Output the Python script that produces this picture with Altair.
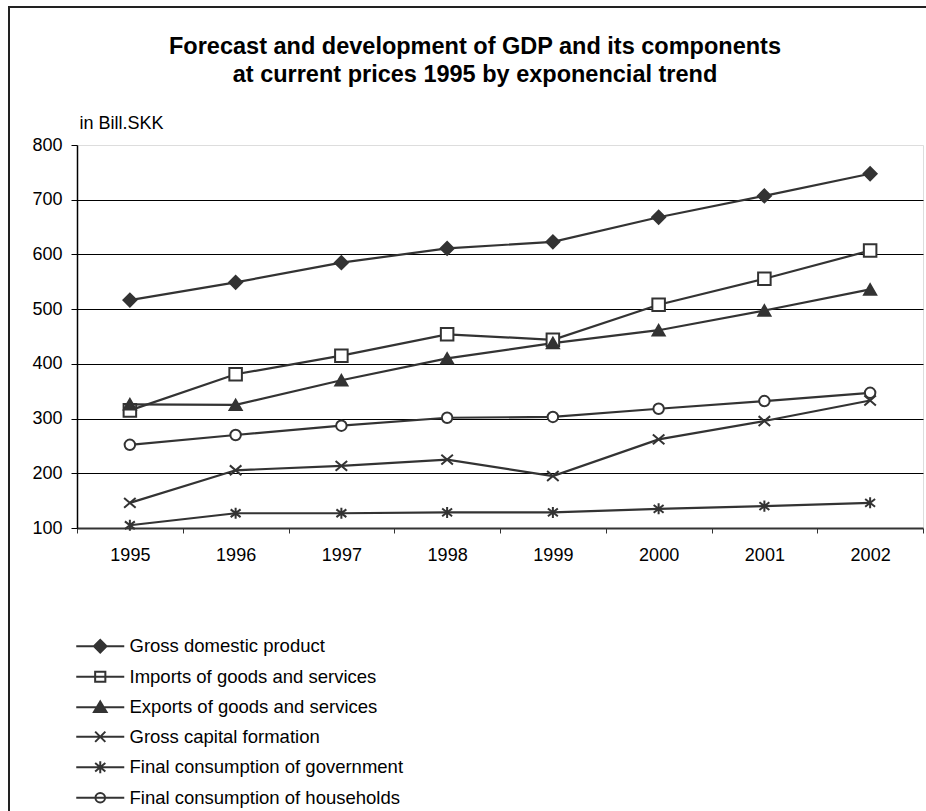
import altair as alt
import pandas as pd

# ---- data ----
years = ['1995', '1996', '1997', '1998', '1999', '2000', '2001', '2002']
series_names = [
    'Gross domestic product',
    'Imports of goods and services',
    'Exports of goods and services',
    'Gross capital formation',
    'Final consumption of government',
    'Final consumption of households',
]
gdp = [516.5, 549, 585, 611, 623, 668, 707, 747.5]
imports = [315, 381, 415, 454, 444, 508, 555.5, 607]
exports = [326, 325, 370, 410, 438, 461.5, 497.5, 536]
capital = [146, 205.5, 213.5, 225, 195, 262, 295.5, 333]
government = [105, 127, 127, 128.5, 128.5, 135, 140, 146]
households = [252, 270, 287, 301.5, 303, 318, 332, 347]
y_ticks = [100, 200, 300, 400, 500, 600, 700, 800]

all_values = [gdp, imports, exports, capital, government, households]
rows = []
for name, vals in zip(series_names, all_values):
    for yr, v in zip(years, vals):
        rows.append({'year': yr, 'series': name, 'value': v})
df = pd.DataFrame(rows)

FONT = 'Liberation Sans'
INK = '#333333'

# plot markers
X_PATH = 'M-1,-0.85L1,0.85M-1,0.85L1,-0.85'
AST_PATH = 'M-0.9,-0.7L0.9,0.7M-0.9,0.7L0.9,-0.7M0,-1L0,1'
point_shapes = ['diamond', 'square', 'triangle-up', X_PATH, AST_PATH, 'circle']
point_fills = [INK, 'white', INK, 'white', 'white', 'white']
point_sizes = [169, 110, 169, 150, 160, 110]

# legend symbols: line through a marker (unit = 6 px at size 144)
L = 'M-4,0H4'
def diamond(k):
    return 'M-{0},0L0,-{0}L{0},0L0,{0}Z'.format(k)
def tri(k):
    return 'M0,-{0}L{1},{2}H-{1}Z'.format(round(0.95 * k, 3), round(1.05 * k, 3), round(0.8 * k, 3))
legend_shapes = [
    L + diamond(1.05) + diamond(0.7) + diamond(0.35) + diamond(0.05),
    L + 'M-0.85,-0.85H0.85V0.85H-0.85Z',
    L + tri(1.0) + tri(0.66) + tri(0.33),
    L + 'M-0.85,-0.85L0.85,0.85M-0.85,0.85L0.85,-0.85',
    L + 'M-0.85,-0.7L0.85,0.7M-0.85,0.7L0.85,-0.7M0,-1V1',
    L + 'M-0.8,0A0.8,0.8,0,1,1,0.8,0A0.8,0.8,0,1,1,-0.8,0Z',
]

x_enc = alt.X('year:O', bandPosition=0.5,
              scale=alt.Scale(type='band', paddingInner=0, paddingOuter=0),
              axis=alt.Axis(title=None, labelAngle=0, tickBand='extent',
                            labelFont=FONT, labelFontSize=18, labelColor='black',
                            labelPadding=13, tickSize=5, tickColor=INK,
                            domainColor=INK, domainWidth=2, grid=False))
y_enc = alt.Y('value:Q',
              scale=alt.Scale(domain=[100, 800], nice=False, zero=False),
              axis=alt.Axis(values=y_ticks, title='in Bill.SKK', titleAngle=0,
                            titleX=2, titleY=-17, titleAlign='left',
                            titleBaseline='alphabetic', titleFont=FONT,
                            titleFontSize=18, titleFontWeight='normal',
                            titleColor='black',
                            labelFont=FONT, labelFontSize=18, labelColor='black',
                            labelPadding=9, tickSize=6, tickColor='black',
                            domainColor='black', domainWidth=1.5,
                            gridColor={'condition': {'test': 'datum.value == 800 || datum.value == 100',
                                                     'value': 'transparent'},
                                       'value': 'black'},
                            gridWidth=1))

one = alt.Data(values=[{'k': 1}])
frame_left = alt.Chart(one).mark_rule(color='#222222', strokeWidth=2).encode(
    x=alt.value(-68), y=alt.value(-138), y2=alt.value(700))
frame_top = alt.Chart(one).mark_rule(color='#222222', strokeWidth=2).encode(
    x=alt.value(-69), x2=alt.value(900), y=alt.value(-138))

lines = alt.Chart(df).mark_line(color=INK, strokeWidth=2.2).encode(
    x=x_enc, y=y_enc, detail='series:N', order='year:O'
)

points = alt.Chart(df).mark_point(stroke=INK, strokeWidth=2, opacity=1).encode(
    x=x_enc, y=y_enc,
    shape=alt.Shape('series:N', scale=alt.Scale(domain=series_names, range=point_shapes), legend=None),
    fill=alt.Fill('series:N', scale=alt.Scale(domain=series_names, range=point_fills), legend=None),
    size=alt.Size('series:N', scale=alt.Scale(domain=series_names, range=point_sizes), legend=None),
)

leg = alt.Legend(title=None, orient='none', legendX=14, legendY=492, direction='vertical',
                 labelFont=FONT, labelFontSize=18.5, labelColor='black', labelOffset=20,
                 symbolSize=144, symbolStrokeWidth=2, symbolOpacity=1,
                 rowPadding=10.5, padding=0, labelLimit=400)

legend_layer = alt.Chart(df).transform_filter('false').transform_calculate(
    legend_series='datum.series'
).mark_point(filled=False, stroke=INK, strokeWidth=2, opacity=1, size=144).encode(
    shape=alt.Shape('legend_series:N', scale=alt.Scale(domain=series_names, range=legend_shapes), legend=leg),
)

chart = alt.layer(frame_left, frame_top, lines, points, legend_layer).resolve_scale(
    shape='independent'
).properties(
    width=846, height=383,
    autosize=alt.AutoSizeParams(type='none'),
    padding={'left': 77, 'top': 145, 'right': 3, 'bottom': 283},
    title=alt.TitleParams(
        text=['Forecast and development of GDP and its components',
              'at current prices 1995 by exponencial trend'],
        font=FONT, fontSize=23.5, fontWeight='bold', color='black',
        anchor='middle', dx=-25, dy=80, offset=0, lineHeight=28),
).configure_view(stroke='#888888', strokeWidth=2).configure(background='white')

chart.save('out.html', embed_options={'renderer': 'svg', 'actions': False})
